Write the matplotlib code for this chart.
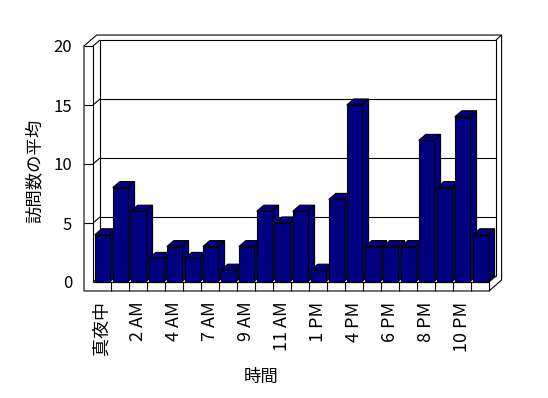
import matplotlib
matplotlib.use('Agg')
import matplotlib.pyplot as plt
from matplotlib.patches import Polygon

plt.rcParams['font.family'] = ['Noto Sans CJK JP', 'DejaVu Sans']

# data
hours = ['真夜中', '1 AM', '2 AM', '3 AM', '4 AM', '5 AM', '7 AM', '8 AM', '9 AM', '10 AM',
         '11 AM', '12 PM', '1 PM', '3 PM', '4 PM', '5 PM', '6 PM', '7 PM', '8 PM', '9 PM',
         '10 PM', '11 PM']
visits = [4, 8, 6, 2, 3, 2, 3, 1, 3, 6, 5, 6, 1, 7, 15, 3, 3, 3, 12, 8, 14, 4]
yticks = [0, 5, 10, 15, 20]
ylabel = '訪問数の平均'
xlabel = '時間'

navy = '#000080'
n = len(visits)
ymax = yticks[-1]
# fake 3d box, in data units
dx, dy = 0.39, 0.51     # depth of the box
bx, by = 0.31, 0.42     # back wall thickness
sx, sy = 0.5, 0.76      # front slab thickness (left wall / floor)
lw = 0.8

fig = plt.figure(figsize=(5.48, 3.98), dpi=100)
ax = fig.add_axes([93 / 548, 116 / 398, 396 / 548, 236 / 398])
ax.set_xlim(0, n)
ax.set_ylim(0, ymax)
for s in ax.spines.values():
    s.set_visible(False)
ax.patch.set_visible(False)


def poly(pts, fc='white', z=1):
    ax.add_patch(Polygon(pts, closed=True, fc=fc, ec='black', lw=lw, zorder=z, clip_on=False))


def line(xs, ys, z=2):
    ax.plot(xs, ys, color='black', lw=lw, zorder=z, clip_on=False, solid_capstyle='butt')


# outer silhouette of the walls + floor
poly([(-sx, -sy), (-sx, ymax), (-sx + dx + bx, ymax + dy + by),
      (n + dx + bx, ymax + dy + by), (n + dx + bx, dy + by - sy), (n, -sy)], z=0.5)
# back wall inner face
poly([(dx, dy), (n + dx, dy), (n + dx, ymax + dy), (dx, ymax + dy)], z=1)
line([n + dx, n + dx + bx], [ymax + dy, ymax + dy + by])
# left wall
line([0, 0], [0, ymax])
line([0, dx], [ymax, ymax + dy])
line([0, dx], [0, dy])
line([-sx, 0], [ymax, ymax])
# floor
line([0, n], [0, 0])
line([n, n], [-sy, 0])
line([n, n + dx], [0, dy])
# gridlines
for v in yticks[1:-1]:
    line([-sx, 0], [v, v])
    line([0, dx], [v, v + dy])
    line([dx, n + dx], [v + dy, v + dy])
# category ticks on the floor slab
for i in range(1, n):
    line([i, i], [-sy, 0])

# bars
left = [i + 0.1 for i in range(n)]
bw = 0.82
bars = ax.bar(left, visits, width=bw, align='edge', color=navy, edgecolor='black', lw=lw)
for i, (b, v) in enumerate(zip(bars, visits)):
    z = 3 + i * 0.01
    l, r = left[i], left[i] + bw
    poly([(r, 0), (r + dx, dy), (r + dx, v + dy), (r, v)], fc=navy, z=z)
    poly([(l, v), (l + dx, v + dy), (r + dx, v + dy), (r, v)], fc=navy, z=z)
    b.set_zorder(z + 0.005)
    b.set_clip_on(False)

ax.set_yticks(yticks)
ax.set_xticks([i + 0.5 for i in range(0, n, 2)])
ax.set_xticklabels(hours[::2])
ax.tick_params(axis='y', length=0, pad=15, labelsize=12)
ax.tick_params(axis='x', length=0, pad=14, labelsize=13, labelrotation=90)

fig.text(35 / 548, 1 - 171 / 398, ylabel, rotation=90, ha='center', va='center', fontsize=12.5)
fig.text(261 / 548, 1 - 377 / 398, xlabel, ha='center', va='center', fontsize=12.5)

fig.savefig('out.png', dpi=100)
